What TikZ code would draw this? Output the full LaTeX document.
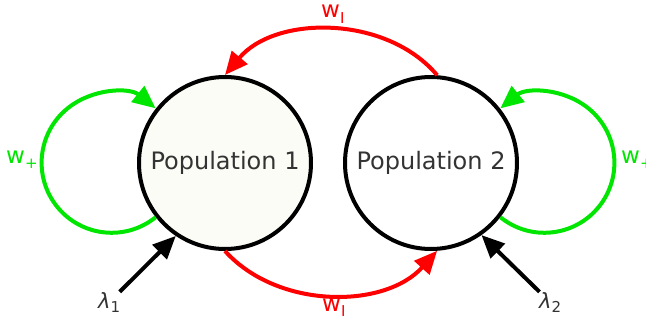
\documentclass[tikz,border=0pt]{standalone}
\usepackage{fontspec}
\setmainfont{DejaVu Sans}
\usetikzlibrary{arrows.meta}

\definecolor{loopgreen}{RGB}{0,230,0}
\definecolor{linkred}{RGB}{255,0,0}
\definecolor{cream}{RGB}{252,252,246}
\newcommand{\lowsub}[1]{\raisebox{-0.4ex}{\fontsize{15}{15}\selectfont #1}}

\begin{document}
\begin{tikzpicture}[x=1pt, y=1pt,
    population/.style={circle, draw, line width=4pt, minimum size=172pt,
        inner sep=0pt, text=black!80, font=\fontsize{24}{28}\selectfont},
    selfloop/.style={draw=loopgreen, line width=4pt, -{Triangle[length=23pt,width=20pt]}},
    crosslink/.style={draw=linkred, line width=4pt, -{Triangle[length=23pt,width=20pt]}},
    inputarrow/.style={draw, line width=4pt, -{Triangle[length=23pt,width=20pt]}},
    weight/.style={inner sep=0pt, anchor=base west, font=\fontsize{23}{26}\selectfont},
    rate/.style={inner sep=0pt, anchor=base west, text=black!80,
        font=\fontsize{21}{24}\selectfont\itshape}
]
\useasboundingbox (0,0) rectangle (646,322);

\node (Pop1) [population, fill=cream] at (225,159) {Population 1};
\node (Pop2) [population, fill=white] at (431,159) {Population 2};

\node (WPlus1) [weight, text=loopgreen] at (6,159) {w\lowsub{+}};
\node (WPlus2) [weight, text=loopgreen] at (621,159) {w\lowsub{+}};
\node (WInhTop) [weight, text=linkred] at (321,304) {w\lowsub{I}};
\node (WInhBot) [weight, text=linkred] at (322,11) {w\lowsub{I}};

\node (Lam1) [rate] at (98,14) {λ\lowsub{\upshape 1}};
\node (Lam2) [rate] at (539,14) {λ\lowsub{\upshape 2}};

% self excitation
\draw[selfloop] (Pop1.218) arc[start angle=-51, end angle=-309, radius=70];
\draw[selfloop] (Pop2.-38) arc[start angle=231, end angle=489, radius=70];

% cross inhibition
\draw[crosslink] (Pop2.86) to[out=130, in=50, looseness=0.95] (Pop1.90);
\draw[crosslink] (Pop1.270) to[out=-48, in=-132, looseness=0.95] (Pop2.274);

% external input
\draw[inputarrow] (Lam1) -- (Pop1.236);
\draw[inputarrow] (Lam2) -- (Pop2.305);

\end{tikzpicture}
\end{document}
